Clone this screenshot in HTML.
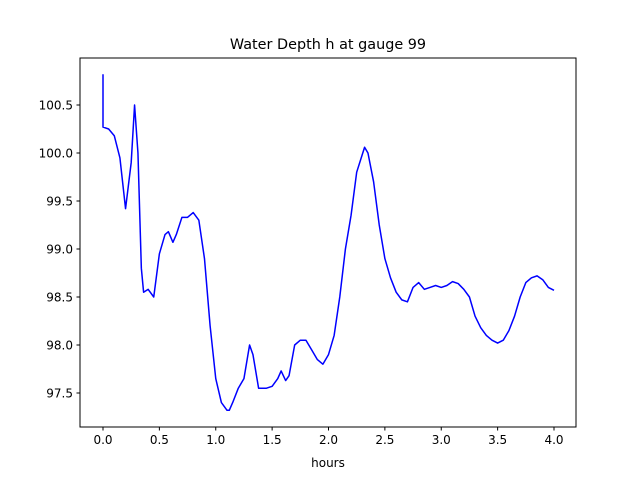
<!DOCTYPE html>
<html><head><meta charset="utf-8"><style>
html,body{margin:0;padding:0;background:#fff}
svg{display:block;font-family:"DejaVu Sans","Liberation Sans",sans-serif}
</style></head><body>
<svg id="chart" width="640" height="480" viewBox="0 0 640 480">
<rect width="640" height="480" fill="#fff"/>
<text x="328" y="49" font-size="14.4" text-anchor="middle">Water Depth h at gauge 99</text>
<g id="plot"></g>
<rect x="80" y="58" width="496" height="369" fill="none" stroke="#000" stroke-width="1"/>
<text x="328" y="467" font-size="12" text-anchor="middle">hours</text>
</svg>
<script>
const xs = [0,0,0.05,0.1,0.15,0.2,0.25,0.28,0.31,0.34,0.36,0.40,0.45,0.5,0.55,0.58,0.62,0.65,0.7,0.75,0.8,0.85,0.9,0.95,1.0,1.05,1.1,1.12,1.15,1.2,1.25,1.3,1.33,1.38,1.45,1.5,1.55,1.58,1.62,1.65,1.7,1.75,1.8,1.85,1.9,1.95,2.0,2.05,2.1,2.15,2.2,2.25,2.32,2.35,2.4,2.45,2.5,2.55,2.6,2.65,2.7,2.75,2.8,2.85,2.9,2.95,3.0,3.05,3.1,3.15,3.2,3.25,3.3,3.35,3.4,3.45,3.5,3.55,3.6,3.65,3.7,3.75,3.8,3.85,3.9,3.95,4.0];
const ys = [100.82,100.27,100.25,100.18,99.95,99.42,99.9,100.5,100.0,98.8,98.55,98.58,98.5,98.95,99.15,99.18,99.07,99.15,99.33,99.33,99.38,99.3,98.9,98.2,97.65,97.4,97.32,97.32,97.4,97.55,97.65,98.0,97.9,97.55,97.55,97.57,97.65,97.73,97.63,97.68,98.0,98.05,98.05,97.95,97.85,97.8,97.9,98.1,98.5,99.0,99.35,99.8,100.06,100.0,99.7,99.25,98.9,98.7,98.55,98.47,98.45,98.6,98.65,98.58,98.6,98.62,98.6,98.62,98.66,98.64,98.58,98.5,98.3,98.18,98.1,98.05,98.02,98.05,98.15,98.3,98.5,98.65,98.7,98.72,98.68,98.6,98.57];
const xTicks = [0,0.5,1,1.5,2,2.5,3,3.5,4];
const xTickLabels = ["0.0","0.5","1.0","1.5","2.0","2.5","3.0","3.5","4.0"];
const yTicks = [97.5,98,98.5,99,99.5,100,100.5];
const yTickLabels = ["97.5","98.0","98.5","99.0","99.5","100.0","100.5"];
const X = v => 103 + v*112.75;
const Y = v => 105 + (100.5 - v)*96;
const NS = "http://www.w3.org/2000/svg";
const g = document.getElementById("plot");
function mk(tag, attrs){const e=document.createElementNS(NS,tag);for(const k in attrs)e.setAttribute(k,attrs[k]);g.appendChild(e);return e;}
xTicks.forEach((t,i)=>{
  const l=mk("line",{x1:X(t),x2:X(t),y1:427,y2:430.5,stroke:"#000"});
  
  
  const tx=mk("text",{x:X(t),y:444,"font-size":"12","text-anchor":"middle"});
  tx.textContent=xTickLabels[i];
  
  
});
yTicks.forEach((t,i)=>{
  const l=mk("line",{x1:76.5,x2:80,y1:Y(t),y2:Y(t),stroke:"#000"});
  
  
  const tx=mk("text",{x:73,y:Y(t)+4.5,"font-size":"12","text-anchor":"end"});
  tx.textContent=yTickLabels[i];
  
  
});
const pts = xs.map((x,i)=>X(x).toFixed(2)+","+Y(ys[i]).toFixed(2)).join(" ");
const line = mk("polyline",{points:pts,fill:"none",stroke:"#0000ff","stroke-width":"1.5","stroke-linejoin":"round"});


</script>
</body></html>
